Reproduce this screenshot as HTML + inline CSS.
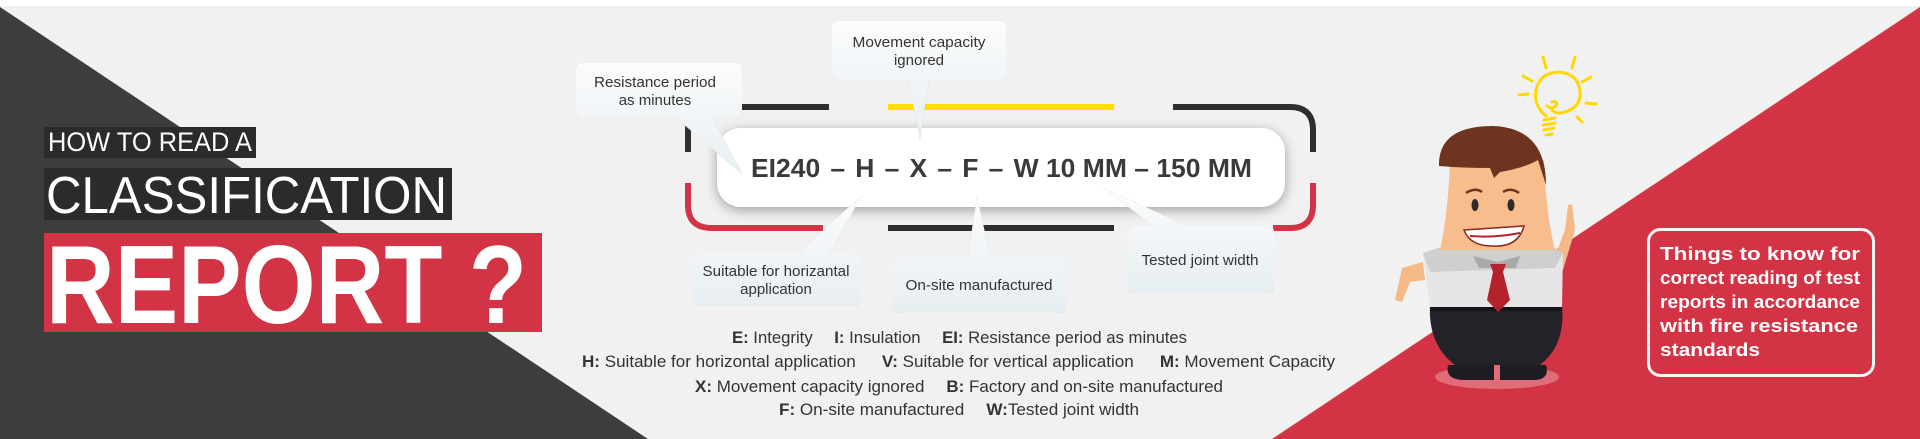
<!DOCTYPE html>
<html><head><meta charset="utf-8"><style>
html,body{margin:0;padding:0;background:#fff;}
svg{display:block;}
</style></head><body>
<svg width="1920" height="439" viewBox="0 0 1920 439" xmlns="http://www.w3.org/2000/svg" font-family="'Liberation Sans', sans-serif">
<defs>
<linearGradient id="cg" x1="0" y1="0" x2="0" y2="1"><stop offset="0" stop-color="#fbfcfd"/><stop offset="1" stop-color="#e7eef1"/></linearGradient>
<filter id="sh" x="-20%" y="-30%" width="140%" height="160%"><feGaussianBlur in="SourceAlpha" stdDeviation="5"/><feOffset dy="2"/><feComponentTransfer><feFuncA type="linear" slope="0.25"/></feComponentTransfer><feFlood flood-color="#6f8a95"/><feComposite operator="in" in2="SourceAlpha"/><feMerge><feMergeNode/><feMergeNode in="SourceGraphic"/></feMerge></filter>
<filter id="sh2" x="-10%" y="-30%" width="120%" height="160%"><feGaussianBlur in="SourceAlpha" stdDeviation="6"/><feOffset dy="3"/><feComponentTransfer><feFuncA type="linear" slope="0.35"/></feComponentTransfer><feMerge><feMergeNode/><feMergeNode in="SourceGraphic"/></feMerge></filter>
</defs>
<rect x="0" y="0" width="1920" height="439" fill="#f1f1f1"/>
<rect x="0" y="0" width="1920" height="6" fill="#ffffff"/>
<polygon points="0,7 0,439 648,439" fill="#3d3d3d"/>
<polygon points="1920,7 1920,439 1272,439" fill="#d23445"/>

<!-- title -->
<rect x="44" y="127" width="212" height="31" fill="#2b2b2d"/>
<text x="48" y="151" font-size="27" fill="#fff" textLength="204" lengthAdjust="spacingAndGlyphs">HOW TO READ A</text>
<rect x="44" y="168" width="408" height="52" fill="#2b2b2d"/>
<text x="46" y="213" font-size="52" fill="#fff" textLength="401" lengthAdjust="spacingAndGlyphs">CLASSIFICATION</text>
<rect x="44" y="233" width="498" height="99" fill="#d23445"/>
<text x="46" y="323" font-size="111" font-weight="bold" fill="#fff" textLength="481" lengthAdjust="spacingAndGlyphs">REPORT ?</text>

<!-- brackets -->
<path d="M688,152 V130 Q688,107 712,107 H829" fill="none" stroke="#2e2e2e" stroke-width="6"/>
<path d="M888,107 H1114" stroke="#ffdd00" stroke-width="6"/>
<path d="M1173,107 H1290 Q1313,107 1313,130 V152" fill="none" stroke="#2e2e2e" stroke-width="6"/>
<path d="M688,183 V205 Q688,228 712,228 H823" fill="none" stroke="#d23445" stroke-width="6"/>
<path d="M888,228 H1114" stroke="#2e2e2e" stroke-width="6"/>
<path d="M1313,183 V205 Q1313,228 1290,228 H1273" fill="none" stroke="#d23445" stroke-width="6"/>

<!-- main pill -->
<rect x="717" y="128" width="568" height="79" rx="24" fill="#ffffff" filter="url(#sh2)"/>
<text x="751" y="177" font-size="26" font-weight="bold" fill="#3a3a3a" textLength="501" lengthAdjust="spacingAndGlyphs">EI240<tspan dx="10">–</tspan><tspan dx="10">H</tspan><tspan dx="10">–</tspan><tspan dx="10">X</tspan><tspan dx="10">–</tspan><tspan dx="10">F</tspan><tspan dx="10">–</tspan><tspan dx="10">W 10 MM – 150 MM</tspan></text>

<!-- callouts -->
<g filter="url(#sh)" fill="url(#cg)">
<path d="M582,63 H736 Q742,63 742,69 V111 Q742,117 736,117 H712 L743,175 L675,117 H582 Q576,117 576,111 V69 Q576,63 582,63 Z"/>
<path d="M838,21 H1000 Q1006,21 1006,27 V74 Q1006,80 1000,80 H929 L920,140 L908,80 H838 Q832,80 832,74 V27 Q832,21 838,21 Z"/>
<path d="M699,253 H798 L862,195 L830,253 H854 Q860,253 860,259 V300 Q860,306 854,306 H699 Q693,306 693,300 V259 Q693,253 699,253 Z"/>
<path d="M899,255 H968 L977,197 L990,255 H1060 Q1066,255 1066,261 V307 Q1066,313 1060,313 H899 Q893,313 893,307 V261 Q893,255 899,255 Z"/>
<path d="M1133,226 H1153 L1102,187 L1187,226 H1268 Q1274,226 1274,232 V287 Q1274,293 1268,293 H1133 Q1127,293 1127,287 V232 Q1127,226 1133,226 Z"/>
</g>
<g font-size="15" fill="#333" text-anchor="middle">
<text x="655" y="87" textLength="122" lengthAdjust="spacingAndGlyphs">Resistance period</text>
<text x="655" y="105">as minutes</text>
<text x="919" y="47" textLength="133" lengthAdjust="spacingAndGlyphs">Movement capacity</text>
<text x="919" y="65">ignored</text>
<text x="776" y="276" textLength="147" lengthAdjust="spacingAndGlyphs">Suitable for horizantal</text>
<text x="776" y="294">application</text>
<text x="979" y="290" textLength="147" lengthAdjust="spacingAndGlyphs">On-site manufactured</text>
<text x="1200" y="265" textLength="117" lengthAdjust="spacingAndGlyphs">Tested joint width</text>
</g>

<!-- legend -->
<g font-size="17" fill="#333">
<text x="732" y="343" textLength="455" lengthAdjust="spacingAndGlyphs"><tspan font-weight="bold">E:</tspan> Integrity<tspan dx="22" font-weight="bold">I:</tspan> Insulation<tspan dx="22" font-weight="bold">EI:</tspan> Resistance period as minutes</text>
<text x="582" y="367" textLength="753" lengthAdjust="spacingAndGlyphs"><tspan font-weight="bold">H:</tspan> Suitable for horizontal application<tspan dx="26" font-weight="bold">V:</tspan>  Suitable for vertical application<tspan dx="26" font-weight="bold">M:</tspan> Movement Capacity</text>
<text x="695" y="392" textLength="528" lengthAdjust="spacingAndGlyphs"><tspan font-weight="bold">X:</tspan> Movement capacity ignored<tspan dx="22" font-weight="bold">B:</tspan> Factory and on-site manufactured</text>
<text x="779" y="415" textLength="360" lengthAdjust="spacingAndGlyphs"><tspan font-weight="bold">F:</tspan> On-site manufactured<tspan dx="22" font-weight="bold">W:</tspan>Tested joint width</text>
</g>

<!-- bulb -->
<g fill="none" stroke="#ffd800" stroke-width="3" stroke-linecap="round">
<path d="M1546,116 Q1533,105 1536,90 Q1540,73 1558,72 Q1577,73 1580,90 Q1582,107 1565,112 Q1556,115 1552,110"/>
<path d="M1552,102 Q1558,100 1556,106 Q1552,110 1547,106"/>
<path d="M1544,120 L1555,118 M1543,125 L1555,123 M1544,130 L1554,128 M1546,135 L1552,134"/>
<path d="M1543,57 L1546,68 M1575,57 L1572,68 M1523,76 L1532,81 M1591,77 L1582,82 M1519,95 L1528,94 M1586,103 L1596,104 M1577,117 L1582,122"/>
</g>

<!-- man -->
<ellipse cx="1497" cy="377" rx="62" ry="12" fill="#e06c78"/>
<path d="M1448,365 Q1445,379 1462,380 H1494 V365 Z" fill="#1d1c22"/>
<path d="M1500,365 V380 H1535 Q1550,379 1546,365 Z" fill="#1d1c22"/>
<path d="M1430,305 H1562 Q1566,345 1540,365 H1455 Q1428,345 1430,305 Z" fill="#232229"/>
<rect x="1430" y="303" width="132" height="8" fill="#141318"/>
<path d="M1423,262 L1402,268 L1395,300 L1402,302 L1410,282 L1425,280 Z" fill="#f5b987"/>
<path d="M1553,262 L1565,230 L1568,205 L1572,204 L1575,230 L1563,270 Z" fill="#f5b987"/>
<path d="M1423,253 H1563 L1562,307 H1430 Z" fill="#e6e6e6"/>
<path d="M1423,253 L1438,248 H1555 L1563,253 L1555,268 L1430,272 Z" fill="#cfcfcf"/>
<path d="M1450,160 Q1448,215 1440,250 H1555 Q1546,215 1544,160 Z" fill="#f8bd8c"/>
<path d="M1473,256 L1498,262 L1520,256 L1516,268 H1479 Z" fill="#a9a9a9"/>
<path d="M1490,264 H1506 L1503,272 L1510,300 L1498,312 L1487,300 L1493,272 Z" fill="#b4222c"/>
<path d="M1439,166 Q1438,126 1493,126 Q1546,128 1546,185 L1538,160 Q1524,168 1500,172 L1494,178 L1490,168 Q1462,168 1439,166 Z" fill="#6e3420"/>
<ellipse cx="1475" cy="205" rx="3.5" ry="6" fill="#2b2b2b"/>
<ellipse cx="1511" cy="205" rx="3.5" ry="6" fill="#2b2b2b"/>
<path d="M1466,193 Q1475,187 1482,192 M1503,192 Q1511,187 1519,193" stroke="#6e3420" stroke-width="2.5" fill="none"/>
<path d="M1464,230 Q1492,228 1524,226 Q1518,248 1492,246 Q1470,246 1464,230 Z" fill="#fff" stroke="#8a2a1e" stroke-width="1.5"/>
<path d="M1470,236 Q1495,238 1520,233" stroke="#b4222c" stroke-width="2" fill="none"/>

<!-- info box -->
<rect x="1648.5" y="229.5" width="225" height="146" rx="12" fill="none" stroke="#f6f6f6" stroke-width="3"/>
<g font-size="18" font-weight="bold" fill="#fff">
<text x="1660" y="260" textLength="200" lengthAdjust="spacingAndGlyphs">Things to know for</text>
<text x="1660" y="284" textLength="200" lengthAdjust="spacingAndGlyphs">correct reading of test</text>
<text x="1660" y="308" textLength="200" lengthAdjust="spacingAndGlyphs">reports in accordance</text>
<text x="1660" y="332" textLength="198" lengthAdjust="spacingAndGlyphs">with fire resistance</text>
<text x="1660" y="356" textLength="100" lengthAdjust="spacingAndGlyphs">standards</text>
</g>
</svg>
</body></html>
